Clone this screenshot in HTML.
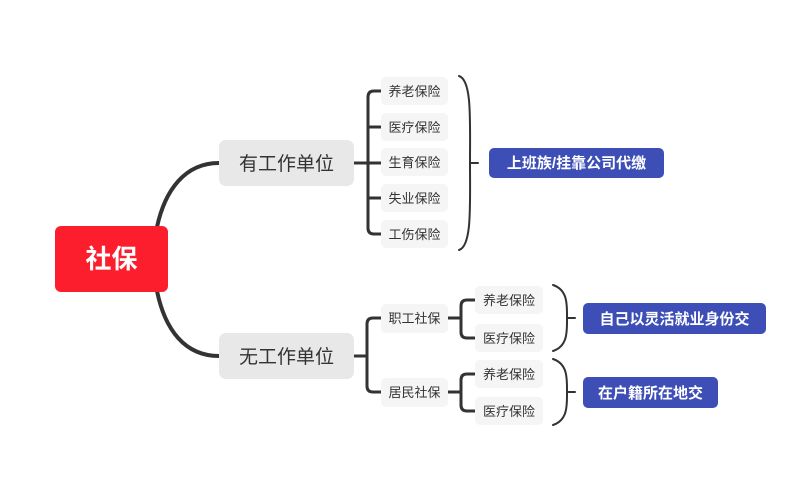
<!DOCTYPE html>
<html><head><meta charset="utf-8"><style>
html,body{margin:0;padding:0;background:#fff;width:800px;height:504px;overflow:hidden}
svg text{font-family:"Liberation Sans","Noto Sans CJK SC",sans-serif}
</style></head><body>
<svg width="800" height="504" viewBox="0 0 800 504" xmlns="http://www.w3.org/2000/svg">
<g fill="none" stroke="#333" stroke-linecap="round">
<path d="M157 227 C165 190,185 163,219 163" stroke-width="4"/>
<path d="M157 291 C165 330,185 356,219 356" stroke-width="4"/>
<g stroke-width="3">
<path d="M354 163 H368"/>
<path d="M381 91 H374 Q368 91 368 97 V228 Q368 234 374 234 H381"/>
<path d="M368 127 H381 M368 163 H381 M368 198 H381"/>
<path d="M354 356 H367"/>
<path d="M381 318 H373 Q367 318 367 324 V386 Q367 392 373 392 H381"/>
<path d="M448 318 H461"/>
<path d="M475 300 H467 Q461 300 461 306 V332 Q461 338 467 338 H475"/>
<path d="M448 392 H461"/>
<path d="M475 374 H467 Q461 374 461 380 V405 Q461 411 467 411 H475"/>
</g>
<g stroke-width="2">
<path d="M459 76 C472 80,470 120,470 163 C470 206,472 246,459 250"/>
<path d="M470 163 H478"/>
<path d="M553 285 C568 290,567 305,567 318 C567 331,568 346,553 351"/>
<path d="M567 318 H575"/>
<path d="M553 359 C568 364,567 379,567 392 C567 405,568 420,553 425"/>
<path d="M567 392 H575"/>
</g>
</g>
<rect x="55" y="226" width="113" height="66" rx="6" fill="#fc1e2d"/>
<text x="111.5" y="268" font-size="26" font-weight="bold" fill="#fff" text-anchor="middle">社保</text>
<g fill="#e8e8e8"><rect x="219" y="140" width="135" height="46" rx="7"/><rect x="219" y="333" width="135" height="46" rx="7"/></g>
<g font-size="19" fill="#333" text-anchor="middle"><text x="286.5" y="170">有工作单位</text><text x="286.5" y="363">无工作单位</text></g>
<g fill="#f5f5f5">
<rect x="381" y="77" width="67" height="28" rx="5"/><rect x="381" y="113" width="67" height="28" rx="5"/><rect x="381" y="148" width="67" height="28" rx="5"/><rect x="381" y="184" width="67" height="28" rx="5"/><rect x="381" y="220" width="67" height="28" rx="5"/>
<rect x="381" y="304" width="67" height="29" rx="5"/><rect x="381" y="378" width="67" height="29" rx="5"/>
<rect x="475" y="286" width="68" height="28" rx="5"/><rect x="475" y="324" width="68" height="28" rx="5"/><rect x="475" y="360" width="68" height="28" rx="5"/><rect x="475" y="397" width="68" height="28" rx="5"/>
</g>
<g font-size="13" fill="#333" text-anchor="middle">
<text x="414.5" y="96">养老保险</text><text x="414.5" y="132">医疗保险</text><text x="414.5" y="167">生育保险</text><text x="414.5" y="203">失业保险</text><text x="414.5" y="239">工伤保险</text>
<text x="414.5" y="323">职工社保</text><text x="414.5" y="397">居民社保</text>
<text x="509" y="305">养老保险</text><text x="509" y="343">医疗保险</text><text x="509" y="379">养老保险</text><text x="509" y="416">医疗保险</text>
</g>
<g fill="#3d4fb6"><rect x="489" y="148" width="175" height="30" rx="5"/><rect x="583" y="303" width="183" height="31" rx="5"/><rect x="583" y="377" width="135" height="31" rx="5"/></g>
<g font-size="15" font-weight="bold" fill="#fff" text-anchor="middle">
<text x="576.5" y="168">上班族/挂靠公司代缴</text><text x="674.5" y="324">自己以灵活就业身份交</text><text x="650.5" y="398">在户籍所在地交</text>
</g>
</svg>
</body></html>
